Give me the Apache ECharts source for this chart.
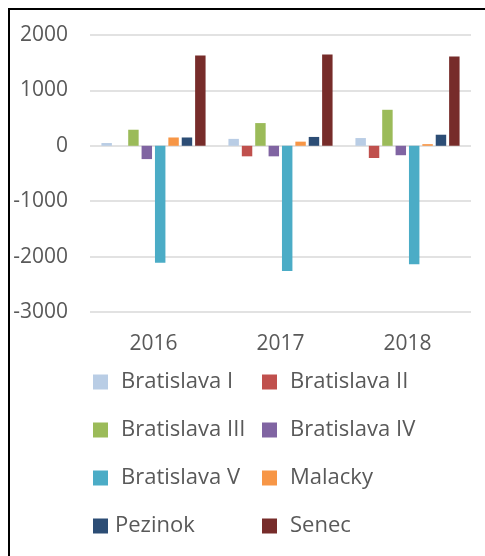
<!DOCTYPE html>
<html>
<head>
<meta charset="utf-8">
<script src="https://cdn.jsdelivr.net/npm/echarts@6/dist/echarts.min.js"></script>
<style>
  html, body { margin: 0; padding: 0; background: #fff; }
  #chart { width: 485px; height: 556px; }
</style>
</head>
<body>
<div id="chart"></div>
<script>
// data
const years = ['2016', '2017', '2018']
const yTicks = [-3000, -2000, -1000, 0, 1000, 2000]
const bratislavaI = [50, 125, 140]
const bratislavaII = [0, -190, -220]
const bratislavaIII = [290, 410, 650]
const bratislavaIV = [-240, -190, -170]
const bratislavaV = [-2110, -2260, -2140]
const malacky = [150, 75, 30]
const pezinok = [150, 160, 200]
const senec = [1630, 1650, 1610]

const names = ['Bratislava I', 'Bratislava II', 'Bratislava III', 'Bratislava IV',
  'Bratislava V', 'Malacky', 'Pezinok', 'Senec']
const values = [bratislavaI, bratislavaII, bratislavaIII, bratislavaIV,
  bratislavaV, malacky, pezinok, senec]
const colors = ['#b9cde5', '#c0504d', '#9bbb59', '#8064a2', '#4bacc6', '#f79646', '#2c4d75', '#772c2a']

const font = 'Open Sans'
const textGray = '#595959'

const chart = echarts.init(document.getElementById('chart'))

const legendBase = {
  orient: 'vertical',
  top: 366,
  itemWidth: 15,
  itemHeight: 15,
  itemGap: 26,
  icon: 'rect',
  textStyle: { color: textGray, fontFamily: font, fontSize: 22, lineHeight: 22, padding: [0, 0, 0, 8] }
}

chart.setOption({
  animation: false,
  color: colors,
  graphic: [{
    type: 'rect',
    shape: { x: 9, y: 9, width: 600, height: 600 },
    style: { fill: 'none', stroke: '#000', lineWidth: 2 }
  }],
  grid: { left: 90, top: 35, width: 381, height: 277 },
  legend: [
    Object.assign({}, legendBase, {
      left: 88,
      data: [names[0], names[2], names[4], { name: names[6], textStyle: { padding: [0, 0, 0, 2] } }]
    }),
    Object.assign({}, legendBase, { left: 257, data: [names[1], names[3], names[5], names[7]] })
  ],
  xAxis: {
    type: 'category',
    data: years,
    axisLine: { show: false, onZero: false },
    axisTick: { show: false },
    axisLabel: { color: textGray, fontFamily: font, fontSize: 21, margin: 22 }
  },
  yAxis: {
    type: 'value',
    min: yTicks[0],
    max: yTicks[yTicks.length - 1],
    interval: 1000,
    axisLine: { show: false },
    axisTick: { show: false },
    splitLine: { lineStyle: { color: '#d9d9d9', width: 1.5 } },
    axisLabel: { color: textGray, fontFamily: font, fontSize: 21, margin: 22, formatter: v => String(v) }
  },
  series: names.map((n, i) => ({
    name: n,
    type: 'bar',
    data: values[i],
    barGap: '28%',
    barCategoryGap: '18%'
  }))
})
</script>
</body>
</html>
